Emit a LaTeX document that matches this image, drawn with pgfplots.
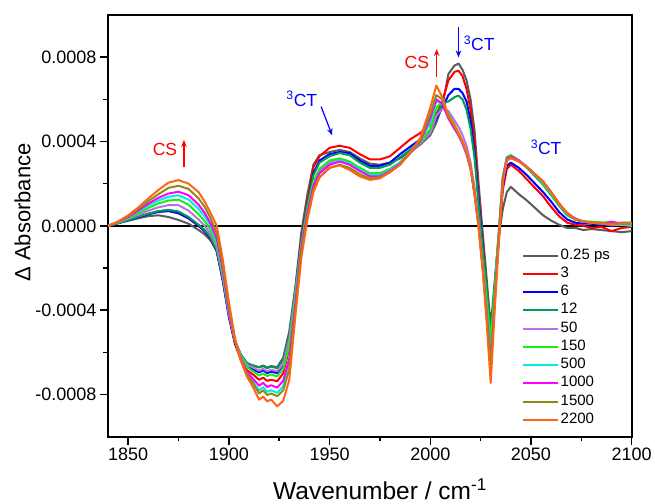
\documentclass[border=0pt]{standalone}
\usepackage{fontspec}
\setmainfont{Liberation Sans}
\usepackage{pgfplots}
\pgfplotsset{compat=1.18}
\usepackage{pgfplotstable}
\usetikzlibrary{arrows.meta}

\definecolor{cgray}{RGB}{90,90,90}
\definecolor{cred}{RGB}{255,0,0}
\definecolor{cblue}{RGB}{0,0,255}
\definecolor{cteal}{RGB}{0,155,85}
\definecolor{cviolet}{RGB}{190,110,230}
\definecolor{clime}{RGB}{20,240,20}
\definecolor{ccyan}{RGB}{0,235,235}
\definecolor{cmag}{RGB}{255,0,255}
\definecolor{colive}{RGB}{140,140,20}
\definecolor{corange}{RGB}{255,100,20}

\pgfplotstableread{
x g r b t v G c m o O
1840 0 0 0 0 0 0 0 0 0 0
1845 0.12e-4 0.13e-4 0.13e-4 0.13e-4 0.15e-4 0.15e-4 0.17e-4 0.18e-4 0.19e-4 0.20e-4
1850 0.24e-4 0.28e-4 0.27e-4 0.28e-4 0.33e-4 0.36e-4 0.40e-4 0.42e-4 0.46e-4 0.50e-4
1855 0.36e-4 0.42e-4 0.41e-4 0.43e-4 0.52e-4 0.60e-4 0.68e-4 0.72e-4 0.80e-4 0.87e-4
1860 0.46e-4 0.57e-4 0.55e-4 0.58e-4 0.72e-4 0.85e-4 0.97e-4 1.05e-4 1.17e-4 1.30e-4
1865 0.50e-4 0.68e-4 0.66e-4 0.70e-4 0.88e-4 1.06e-4 1.20e-4 1.33e-4 1.50e-4 1.70e-4
1870 0.42e-4 0.72e-4 0.70e-4 0.76e-4 0.98e-4 1.20e-4 1.38e-4 1.53e-4 1.80e-4 2.05e-4
1875 0.28e-4 0.60e-4 0.60e-4 0.68e-4 0.98e-4 1.24e-4 1.45e-4 1.62e-4 1.90e-4 2.17e-4
1880 0.10e-4 0.35e-4 0.36e-4 0.42e-4 0.72e-4 1.00e-4 1.25e-4 1.45e-4 1.75e-4 2.00e-4
1885 -0.20e-4 0 0 0.05e-4 0.30e-4 0.55e-4 0.80e-4 1.00e-4 1.30e-4 1.60e-4
1888 -0.40e-4 -0.25e-4 -0.25e-4 -0.20e-4 0 0.22e-4 0.45e-4 0.62e-4 0.90e-4 1.15e-4
1891 -0.70e-4 -0.60e-4 -0.60e-4 -0.55e-4 -0.40e-4 -0.20e-4 0 0.10e-4 0.35e-4 0.60e-4
1894 -1.2e-4 -1.2e-4 -1.2e-4 -1.15e-4 -1.0e-4 -0.9e-4 -0.7e-4 -0.6e-4 -0.35e-4 0
1897 -2.5e-4 -2.6e-4 -2.6e-4 -2.5e-4 -2.4e-4 -2.3e-4 -2.2e-4 -2.1e-4 -1.9e-4 -1.6e-4
1900 -4.2e-4 -4.3e-4 -4.3e-4 -4.2e-4 -4.15e-4 -4.1e-4 -4.0e-4 -4.0e-4 -3.8e-4 -3.6e-4
1903 -5.5e-4 -5.6e-4 -5.55e-4 -5.45e-4 -5.45e-4 -5.45e-4 -5.45e-4 -5.45e-4 -5.4e-4 -5.3e-4
1906 -6.15e-4 -6.35e-4 -6.25e-4 -6.1e-4 -6.15e-4 -6.2e-4 -6.3e-4 -6.3e-4 -6.4e-4 -6.4e-4
1909 -6.55e-4 -6.85e-4 -6.65e-4 -6.5e-4 -6.6e-4 -6.7e-4 -7.0e-4 -6.95e-4 -7.05e-4 -7.15e-4
1912 -6.62e-4 -7.05e-4 -6.8e-4 -6.62e-4 -6.72e-4 -6.9e-4 -7.4e-4 -7.25e-4 -7.45e-4 -7.65e-4
1915 -6.7e-4 -7.3e-4 -6.95e-4 -6.72e-4 -6.87e-4 -7.1e-4 -7.8e-4 -7.58e-4 -7.95e-4 -8.24e-4
1917 -6.62e-4 -7.2e-4 -6.85e-4 -6.65e-4 -6.78e-4 -7.0e-4 -7.65e-4 -7.45e-4 -7.8e-4 -8.1e-4
1919 -6.72e-4 -7.35e-4 -6.98e-4 -6.75e-4 -6.9e-4 -7.12e-4 -7.87e-4 -7.64e-4 -8.02e-4 -8.32e-4
1921 -6.65e-4 -7.3e-4 -6.92e-4 -6.68e-4 -6.83e-4 -7.05e-4 -7.8e-4 -7.56e-4 -7.95e-4 -8.24e-4
1924 -6.7e-4 -7.37e-4 -6.98e-4 -6.75e-4 -6.9e-4 -7.14e-4 -7.92e-4 -7.67e-4 -8.08e-4 -8.56e-4
1927 -6.25e-4 -7.0e-4 -6.6e-4 -6.35e-4 -6.55e-4 -6.8e-4 -7.6e-4 -7.35e-4 -7.8e-4 -8.3e-4
1930 -5.0e-4 -5.8e-4 -5.4e-4 -5.2e-4 -5.4e-4 -5.7e-4 -6.5e-4 -6.3e-4 -6.8e-4 -7.3e-4
1933 -2.9e-4 -3.3e-4 -3.1e-4 -3.0e-4 -3.2e-4 -3.4e-4 -3.8e-4 -3.7e-4 -4.0e-4 -4.3e-4
1936 -0.3e-4 -0.6e-4 -0.7e-4 -0.7e-4 -0.9e-4 -0.9e-4 -1.0e-4 -1.0e-4 -1.2e-4 -1.5e-4
1939 1.5e-4 1.2e-4 1.0e-4 1.0e-4 0.7e-4 0.8e-4 0.6e-4 0.6e-4 0.4e-4 0.3e-4
1942 2.9e-4 2.8e-4 2.5e-4 2.4e-4 2.0e-4 2.1e-4 1.9e-4 1.9e-4 1.7e-4 1.6e-4
1945 3.35e-4 3.3e-4 3.1e-4 3.0e-4 2.6e-4 2.7e-4 2.5e-4 2.5e-4 2.3e-4 2.3e-4
1950 3.5e-4 3.7e-4 3.4e-4 3.3e-4 3.0e-4 3.1e-4 2.9e-4 2.9e-4 2.75e-4 2.75e-4
1955 3.6e-4 3.8e-4 3.5e-4 3.45e-4 3.15e-4 3.2e-4 3.1e-4 3.05e-4 2.9e-4 2.87e-4
1960 3.5e-4 3.7e-4 3.45e-4 3.35e-4 3.0e-4 3.05e-4 2.95e-4 2.9e-4 2.75e-4 2.65e-4
1965 3.2e-4 3.4e-4 3.1e-4 3.0e-4 2.7e-4 2.75e-4 2.65e-4 2.6e-4 2.45e-4 2.35e-4
1970 2.95e-4 3.15e-4 2.85e-4 2.75e-4 2.5e-4 2.5e-4 2.4e-4 2.35e-4 2.25e-4 2.18e-4
1975 2.9e-4 3.15e-4 2.85e-4 2.75e-4 2.5e-4 2.5e-4 2.4e-4 2.35e-4 2.3e-4 2.25e-4
1980 3.0e-4 3.3e-4 3.0e-4 2.9e-4 2.7e-4 2.7e-4 2.65e-4 2.6e-4 2.55e-4 2.55e-4
1985 3.2e-4 3.7e-4 3.4e-4 3.25e-4 3.0e-4 3.0e-4 3.0e-4 2.95e-4 2.9e-4 2.9e-4
1990 3.5e-4 4.1e-4 3.75e-4 3.6e-4 3.45e-4 3.5e-4 3.45e-4 3.45e-4 3.45e-4 3.5e-4
1995 3.85e-4 4.4e-4 4.1e-4 4.0e-4 3.9e-4 3.95e-4 4.0e-4 4.0e-4 4.05e-4 4.15e-4
2000 4.3e-4 4.8e-4 4.5e-4 4.4e-4 4.4e-4 4.6e-4 4.9e-4 5.1e-4 5.3e-4 5.6e-4
2003 4.9e-4 5.3e-4 5.1e-4 5.2e-4 5.2e-4 5.6e-4 5.9e-4 6.0e-4 6.2e-4 6.65e-4
2006 5.7e-4 5.9e-4 5.6e-4 5.8e-4 5.55e-4 5.9e-4 5.8e-4 5.8e-4 6.0e-4 6.1e-4
2009 7.2e-4 6.9e-4 6.2e-4 5.9e-4 5.45e-4 5.3e-4 5.1e-4 5.1e-4 5.2e-4 5.2e-4
2012 7.6e-4 7.3e-4 6.5e-4 6.1e-4 5.0e-4 4.8e-4 4.6e-4 4.6e-4 4.7e-4 4.75e-4
2014 7.7e-4 7.36e-4 6.5e-4 6.18e-4 4.7e-4 4.4e-4 4.3e-4 4.3e-4 4.35e-4 4.4e-4
2016 7.4e-4 7.1e-4 6.3e-4 6.0e-4 4.3e-4 4.0e-4 3.9e-4 3.9e-4 3.95e-4 4.0e-4
2018 6.9e-4 6.5e-4 5.9e-4 5.5e-4 3.8e-4 3.5e-4 3.4e-4 3.4e-4 3.45e-4 3.5e-4
2020 6.0e-4 5.5e-4 5.0e-4 4.6e-4 3.0e-4 2.8e-4 2.7e-4 2.7e-4 2.75e-4 2.8e-4
2022 4.5e-4 4.0e-4 3.5e-4 3.2e-4 1.8e-4 1.6e-4 1.5e-4 1.5e-4 1.5e-4 1.5e-4
2024 2.0e-4 1.5e-4 1.2e-4 1.0e-4 0.2e-4 0.1e-4 0 0 -0.05e-4 -0.1e-4
2026 -0.3e-4 -0.8e-4 -1.0e-4 -1.1e-4 -1.8e-4 -1.7e-4 -1.9e-4 -1.95e-4 -2.0e-4 -2.1e-4
2028 -2.5e-4 -3.2e-4 -3.3e-4 -3.0e-4 -3.9e-4 -3.5e-4 -4.0e-4 -4.1e-4 -4.25e-4 -4.6e-4
2030 -4.8e-4 -5.9e-4 -5.7e-4 -5.3e-4 -6.2e-4 -5.5e-4 -6.4e-4 -6.5e-4 -6.7e-4 -7.45e-4
2032 -2.6e-4 -3.2e-4 -3.1e-4 -2.8e-4 -3.3e-4 -2.9e-4 -3.4e-4 -3.5e-4 -3.6e-4 -4.0e-4
2034 -0.5e-4 -0.7e-4 -0.6e-4 -0.3e-4 -0.5e-4 -0.3e-4 -0.5e-4 -0.5e-4 -0.6e-4 -0.8e-4
2036 0.8e-4 1.7e-4 1.9e-4 2.3e-4 2.2e-4 2.3e-4 2.2e-4 2.2e-4 2.1e-4 2.0e-4
2038 1.6e-4 2.7e-4 2.85e-4 3.25e-4 3.2e-4 3.25e-4 3.2e-4 3.2e-4 3.15e-4 3.1e-4
2040 1.85e-4 2.9e-4 3.0e-4 3.35e-4 3.3e-4 3.35e-4 3.3e-4 3.3e-4 3.25e-4 3.2e-4
2044 1.5e-4 2.6e-4 2.75e-4 3.1e-4 3.1e-4 3.1e-4 3.1e-4 3.1e-4 3.05e-4 3.05e-4
2048 1.2e-4 2.2e-4 2.4e-4 2.75e-4 2.75e-4 2.75e-4 2.78e-4 2.8e-4 2.8e-4 2.78e-4
2052 0.85e-4 1.8e-4 2.0e-4 2.35e-4 2.4e-4 2.4e-4 2.45e-4 2.45e-4 2.45e-4 2.45e-4
2056 0.5e-4 1.4e-4 1.6e-4 1.95e-4 2.0e-4 2.0e-4 2.05e-4 2.1e-4 2.1e-4 2.1e-4
2060 0.25e-4 0.9e-4 1.15e-4 1.45e-4 1.5e-4 1.5e-4 1.55e-4 1.6e-4 1.6e-4 1.6e-4
2064 0.05e-4 0.45e-4 0.65e-4 0.95e-4 1.0e-4 1.0e-4 1.05e-4 1.05e-4 1.05e-4 1.05e-4
2068 -0.1e-4 0.15e-4 0.3e-4 0.5e-4 0.55e-4 0.55e-4 0.6e-4 0.6e-4 0.6e-4 0.6e-4
2072 -0.1e-4 0.05e-4 0.15e-4 0.3e-4 0.3e-4 0.3e-4 0.3e-4 0.35e-4 0.32e-4 0.3e-4
2076 -0.2e-4 0 0.1e-4 0.2e-4 0.2e-4 0.2e-4 0.2e-4 0.2e-4 0.22e-4 0.2e-4
2080 -0.15e-4 -0.1e-4 0.1e-4 0.15e-4 0.15e-4 0.2e-4 0.15e-4 0.15e-4 0.17e-4 0.15e-4
2085 -0.2e-4 -0.05e-4 0.05e-4 0.15e-4 0.12e-4 0.15e-4 0.1e-4 0.12e-4 0.15e-4 0.1e-4
2090 -0.25e-4 -0.25e-4 0 0.1e-4 0.1e-4 0.15e-4 0.05e-4 0.2e-4 0.1e-4 0.05e-4
2095 -0.3e-4 -0.1e-4 0.1e-4 0.15e-4 0.05e-4 0.1e-4 0.05e-4 0.1e-4 0.1e-4 0.1e-4
2100 -0.25e-4 -0.05e-4 0.05e-4 0.15e-4 0.1e-4 0.15e-4 0 0.1e-4 0.1e-4 0.1e-4
}\spectra

\begin{document}
\begin{tikzpicture}
\path[use as bounding box] (-108pt,-66.3pt) rectangle (547pt,436.7pt);
\begin{axis}[
  at={(0pt,0pt)}, anchor=south west,
  scale only axis, width=523.7pt, height=421.7pt,
  xmin=1840, xmax=2100, ymin=-0.001, ymax=0.001,
  xtick={1850,1900,1950,2000,2050,2100},
  ytick={-0.0008,-0.0004,0,0.0004,0.0008},
  minor x tick num=1, minor y tick num=1,
  scaled y ticks=false, scaled x ticks=false,
  tick align=outside, tick pos=left,
  major tick length=8pt, minor tick length=4.5pt,
  every tick/.style={black, line width=1.5pt},
  axis line style={line width=1.7pt},
  /pgf/number format/assume math mode=true,
  y tick label style={/pgf/number format/fixed, /pgf/number format/fixed zerofill, /pgf/number format/precision=4},
  x tick label style={/pgf/number format/1000 sep={}},
  tick label style={font=\fontsize{18}{20}\selectfont},
  xlabel={Wavenumber / cm\textsuperscript{-1}},
  ylabel={Δ Absorbance},
  xlabel style={at={(axis description cs:0.5194,-0.148)}, anchor=base, font=\fontsize{24.5}{28}\selectfont},
  ylabel style={at={(axis description cs:-0.1633,0.5317)}, anchor=center, font=\fontsize{22}{26}\selectfont},
  legend cell align=left,
  legend image code/.code={\draw[#1] (0pt,0pt) -- (35pt,0pt);},
  legend style={draw=none, fill=none, at={(axis description cs:0.7905,0.4475)}, anchor=north west,
    font=\fontsize{15}{18}\selectfont, inner sep=0pt, row sep=3.25pt, column sep=1pt,
    nodes={inner sep=0.5pt, text height=10.5pt, text depth=3.5pt}},
]
\addplot[black, line width=1.7pt, forget plot] coordinates {(1840,0) (2100,0)};
\addplot[color=cgray, line width=2pt, line join=round] table[x=x,y=g] {\spectra}; \addlegendentry{0.25 ps}
\addplot[color=cred, line width=2pt, line join=round] table[x=x,y=r] {\spectra}; \addlegendentry{3}
\addplot[color=cblue, line width=2pt, line join=round] table[x=x,y=b] {\spectra}; \addlegendentry{6}
\addplot[color=cteal, line width=2pt, line join=round] table[x=x,y=t] {\spectra}; \addlegendentry{12}
\addplot[color=cviolet, line width=2pt, line join=round] table[x=x,y=v] {\spectra}; \addlegendentry{50}
\addplot[color=clime, line width=2pt, line join=round] table[x=x,y=G] {\spectra}; \addlegendentry{150}
\addplot[color=ccyan, line width=2pt, line join=round] table[x=x,y=c] {\spectra}; \addlegendentry{500}
\addplot[color=cmag, line width=2pt, line join=round] table[x=x,y=m] {\spectra}; \addlegendentry{1000}
\addplot[color=colive, line width=2pt, line join=round] table[x=x,y=o] {\spectra}; \addlegendentry{1500}
\addplot[color=corange, line width=2pt, line join=round] table[x=x,y=O] {\spectra}; \addlegendentry{2200}

\node[red, font=\fontsize{17.5}{20}\selectfont] at (axis cs:1868.3,3.63e-4) {CS};
\draw[red, line width=1.2pt, -{Stealth[length=7pt,width=5.5pt]}] (axis cs:1877.7,2.79e-4) -- (axis cs:1877.7,4.08e-4);
\node[blue, font=\fontsize{17.5}{20}\selectfont] at (axis cs:1936.2,6.02e-4) {\textsuperscript{3}CT};
\draw[blue, line width=1.2pt, -{Stealth[length=7pt,width=5.5pt]}] (axis cs:1945.8,5.66e-4) -- (axis cs:1951.3,4.29e-4);
\node[red, font=\fontsize{17.5}{20}\selectfont] at (axis cs:1993.3,7.75e-4) {CS};
\draw[red, line width=1.2pt, -{Stealth[length=7pt,width=5.5pt]}] (axis cs:2003.2,7.04e-4) -- (axis cs:2003.2,8.39e-4);
\node[blue, font=\fontsize{17.5}{20}\selectfont] at (axis cs:2024.3,8.64e-4) {\textsuperscript{3}CT};
\draw[blue, line width=1.2pt, -{Stealth[length=7pt,width=5.5pt]}] (axis cs:2014,9.41e-4) -- (axis cs:2014,7.99e-4);
\node[blue, font=\fontsize{17.5}{20}\selectfont] at (axis cs:2057.5,3.74e-4) {\textsuperscript{3}CT};
\end{axis}
\end{tikzpicture}
\end{document}
